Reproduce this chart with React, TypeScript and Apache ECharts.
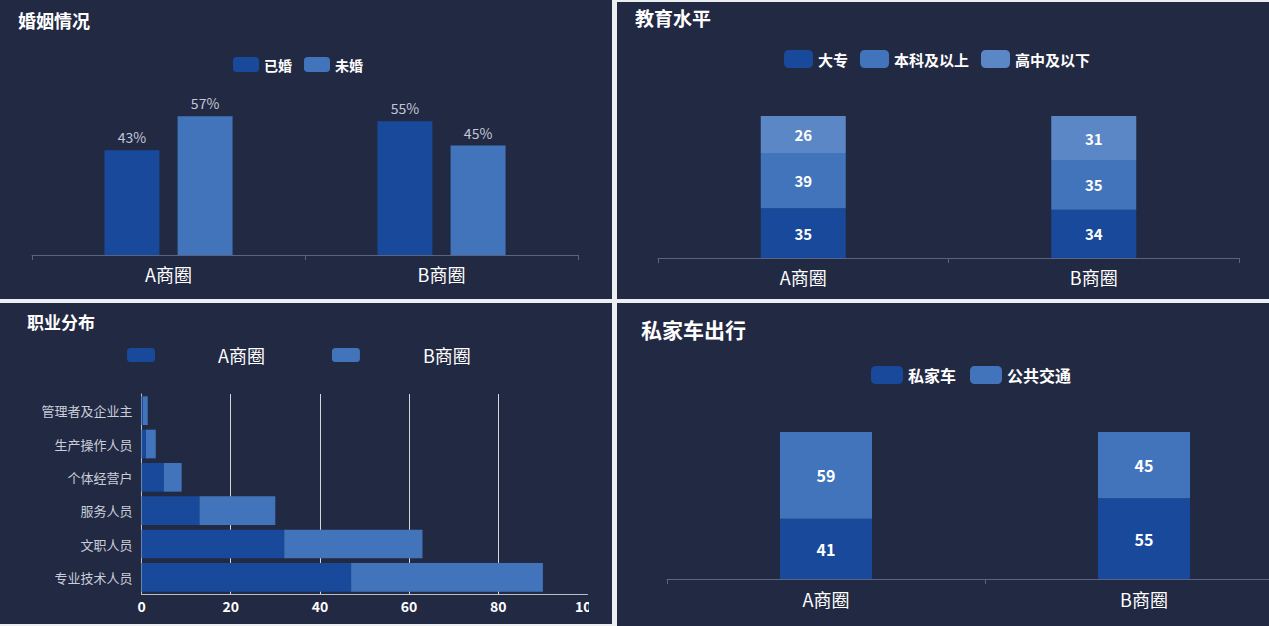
import * as echarts from 'echarts';
import { useEffect, useRef } from 'react';

// data
const regions = ['A商圈', 'B商圈'];
const marriedPct = [43, 55];
const unmarriedPct = [57, 45];

const eduCollege = [35, 34];
const eduBachelor = [39, 35];
const eduHighSchool = [26, 31];

const occupations = ['专业技术人员', '文职人员', '服务人员', '个体经营户', '生产操作人员', '管理者及企业主'];
const occupationA = [47, 32, 13, 5, 1, 0.3];
const occupationB = [43, 31, 17, 4, 2.2, 1.1];

const carPrivate = [41, 55];
const carPublic = [59, 45];

const BG = '#222943';
const DARK = '#18499b';
const MID = '#4174bb';
const LIGHT = '#5c87c7';
const FONT = "'Noto Sans CJK SC', 'Noto Sans', sans-serif";

const titleOf = (text: string, left: number, top: number, fontSize: number) => ({
  text,
  left,
  top,
  padding: 0,
  textStyle: { color: '#ffffff', fontSize, fontWeight: 'bold', fontFamily: FONT },
});

const categoryAxis = (margin: number) => ({
  type: 'category',
  data: regions,
  axisLine: { lineStyle: { color: '#5b6385' } },
  axisTick: { show: true, length: 5, lineStyle: { color: '#5b6385' } },
  axisLabel: { color: '#ffffff', fontSize: 18, margin, fontFamily: FONT },
});

const App = () => {
  const ref1 = useRef<HTMLDivElement>(null);
  const ref2 = useRef<HTMLDivElement>(null);
  const ref3 = useRef<HTMLDivElement>(null);
  const ref4 = useRef<HTMLDivElement>(null);

  useEffect(() => {
    const charts: echarts.ECharts[] = [];

    // 婚姻情况
    if (ref1.current) {
      const chart = echarts.init(ref1.current, null, { renderer: 'svg' });
      chart.setOption({
        animation: false,
        textStyle: { fontFamily: FONT },
        title: titleOf('婚姻情况', 18, 11, 18),
        legend: {
          left: 233,
          top: 57,
          padding: 0,
          itemWidth: 26,
          itemHeight: 15,
          itemGap: 12,
          textStyle: { color: '#ffffff', fontSize: 14, fontWeight: 'bold' },
        },
        grid: { left: 32, right: 34, top: 109, bottom: 44, outerBoundsMode: 'none' },
        xAxis: categoryAxis(10),
        yAxis: { type: 'value', min: 0, max: 60, show: false },
        series: [
          {
            name: '已婚',
            type: 'bar',
            data: marriedPct,
            barWidth: 55,
            barGap: '33%',
            itemStyle: { color: DARK },
            label: { show: true, position: 'top', formatter: '{c}%', color: '#c2c8d6', fontSize: 14, distance: 6 },
          },
          {
            name: '未婚',
            type: 'bar',
            data: unmarriedPct,
            barWidth: 55,
            itemStyle: { color: MID },
            label: { show: true, position: 'top', formatter: '{c}%', color: '#c2c8d6', fontSize: 14, distance: 6 },
          },
        ],
      });
      charts.push(chart);
    }

    // 教育水平
    if (ref2.current) {
      const chart = echarts.init(ref2.current, null, { renderer: 'svg' });
      const inside = { show: true, position: 'inside', color: '#ffffff', fontSize: 15, fontWeight: 'bold' };
      chart.setOption({
        animation: false,
        textStyle: { fontFamily: FONT },
        title: titleOf('教育水平', 18, 6, 19),
        legend: {
          left: 167,
          top: 48,
          padding: 0,
          itemWidth: 29,
          itemHeight: 18,
          itemGap: 12,
          textStyle: { color: '#ffffff', fontSize: 15, fontWeight: 'bold' },
        },
        grid: { left: 41, right: 30, top: 114, bottom: 41, outerBoundsMode: 'none' },
        xAxis: categoryAxis(10),
        yAxis: { type: 'value', min: 0, max: 100, show: false },
        series: [
          { name: '大专', type: 'bar', stack: 'edu', data: eduCollege, barWidth: 85, itemStyle: { color: DARK }, label: inside },
          { name: '本科及以上', type: 'bar', stack: 'edu', data: eduBachelor, barWidth: 85, itemStyle: { color: MID }, label: inside },
          { name: '高中及以下', type: 'bar', stack: 'edu', data: eduHighSchool, barWidth: 85, itemStyle: { color: LIGHT }, label: inside },
        ],
      });
      charts.push(chart);
    }

    // 职业分布
    if (ref3.current) {
      const chart = echarts.init(ref3.current, null, { renderer: 'svg' });
      chart.setOption({
        animation: false,
        textStyle: { fontFamily: FONT },
        title: titleOf('职业分布', 27, 10, 17),
        legend: {
          left: 127,
          top: 43,
          padding: 0,
          itemWidth: 28,
          itemHeight: 14,
          itemGap: 67,
          textStyle: { color: '#ffffff', fontSize: 18, padding: [0, 0, 0, 58] },
        },
        grid: { left: 141.5, right: 1.5, top: 91, bottom: 30, outerBoundsMode: 'none' },
        xAxis: {
          type: 'value',
          min: 0,
          max: 100,
          interval: 20,
          axisLine: { show: true, lineStyle: { color: '#b9bec9' } },
          axisTick: { show: false },
          splitLine: { show: true, showMaxLine: false, lineStyle: { color: '#d4d6dc' } },
          axisLabel: { color: '#ffffff', fontSize: 14, fontWeight: 'bold', margin: 5 },
        },
        yAxis: {
          type: 'category',
          data: occupations,
          axisLine: { lineStyle: { color: '#b9bec9' } },
          axisTick: { length: 5, lineStyle: { color: '#b9bec9' } },
          axisLabel: { color: '#c9ceda', fontSize: 13, margin: 9 },
        },
        series: [
          { name: 'A商圈', type: 'bar', stack: 'occ', data: occupationA, barCategoryGap: '14%', itemStyle: { color: DARK } },
          { name: 'B商圈', type: 'bar', stack: 'occ', data: occupationB, barCategoryGap: '14%', itemStyle: { color: MID } },
        ],
      });
      charts.push(chart);
    }

    // 私家车出行
    if (ref4.current) {
      const chart = echarts.init(ref4.current, null, { renderer: 'svg' });
      const inside = { show: true, position: 'inside', color: '#ffffff', fontSize: 16, fontWeight: 'bold' };
      chart.setOption({
        animation: false,
        textStyle: { fontFamily: FONT },
        title: titleOf('私家车出行', 24, 15, 21),
        legend: {
          left: 254,
          top: 63,
          padding: 0,
          itemWidth: 32,
          itemHeight: 18,
          itemGap: 14,
          textStyle: { color: '#ffffff', fontSize: 16, fontWeight: 'bold' },
        },
        grid: { left: 50, right: 34, top: 129, bottom: 47, outerBoundsMode: 'none' },
        xAxis: categoryAxis(11),
        yAxis: { type: 'value', min: 0, max: 100, show: false },
        series: [
          { name: '私家车', type: 'bar', stack: 'car', data: carPrivate, barWidth: 92, itemStyle: { color: DARK }, label: inside },
          { name: '公共交通', type: 'bar', stack: 'car', data: carPublic, barWidth: 92, itemStyle: { color: MID }, label: inside },
        ],
      });
      charts.push(chart);
    }

    return () => {
      charts.forEach((c) => c.dispose());
    };
  }, []);

  const panel = (left: number, top: number, width: number, height: number) => ({
    position: 'absolute' as const,
    left,
    top,
    width,
    height,
    background: BG,
    overflow: 'hidden' as const,
  });

  return (
    <div style={{ position: 'fixed', left: 0, top: 0, width: 1269, height: 626, background: '#eceef2', overflow: 'hidden' }}>
      <div style={panel(0, 0, 612, 299)}>
        <div ref={ref1} style={{ width: 612, height: 299 }}></div>
      </div>
      <div style={panel(617, 2, 652, 297)}>
        <div ref={ref2} style={{ width: 652, height: 297 }}></div>
      </div>
      <div style={panel(0, 303, 612, 321)}>
        <div ref={ref3} style={{ width: 589, height: 321 }}></div>
      </div>
      <div style={panel(617, 303, 652, 323)}>
        <div ref={ref4} style={{ width: 720, height: 323 }}></div>
      </div>
    </div>
  );
};

export default App;
